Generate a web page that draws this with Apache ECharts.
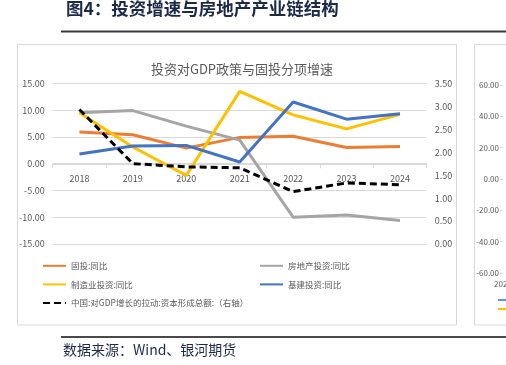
<!DOCTYPE html>
<html>
<head>
<meta charset="utf-8">
<script src="https://cdn.jsdelivr.net/npm/echarts@6/dist/echarts.min.js"></script>
<style>
  html, body { margin: 0; padding: 0; background: #fff; }
  #main { width: 506px; height: 365px; }
</style>
</head>
<body>
<div id="main"></div>
<script>
// 年份
var years = ['2018', '2019', '2020', '2021', '2022', '2023', '2024'];

// 左轴 (%)
var fixedInvest = [5.9, 5.4, 2.9, 4.9, 5.1, 3.0, 3.2];       // 固投:同比
var realEstate = [9.5, 9.9, 7.0, 4.4, -10.0, -9.6, -10.6];   // 房地产投资:同比
var manufacturing = [9.5, 3.1, -2.2, 13.5, 9.1, 6.5, 9.2];   // 制造业投资:同比
var infra = [1.8, 3.3, 3.4, 0.3, 11.5, 8.3, 9.3];            // 基建投资:同比

// 右轴
var gdpPull = [2.93, 1.75, 1.68, 1.66, 1.14, 1.33, 1.29];   // 资本形成总额拉动

// 右侧被截断的第二张图
var rightYears = ['2020', ''];

var fontNarrow = "'Liberation Sans Narrow', 'Noto Sans CJK SC', sans-serif";
var fontCJK = "'Noto Sans CJK SC', sans-serif";
var navy = '#1c2a48';
var gridColor = '#d9d9d9';
var labelColor = '#595959';

var chart = echarts.init(document.getElementById('main'), null, { renderer: 'canvas' });

function fmt2(v) { return v.toFixed(2); }

var legendBase = {
    orient: 'vertical',
    top: 256,
    itemWidth: 23, itemHeight: 12, itemGap: 9,
    itemStyle: { opacity: 0 },
    textStyle: { fontFamily: fontCJK, fontSize: 8.5, color: labelColor }
};

var option = {
    animation: false,
    backgroundColor: '#fff',
    title: {
        text: '投资对GDP政策与固投分项增速',
        left: 237,
        textAlign: 'center',
        top: 58,
        textStyle: { fontFamily: fontCJK, fontSize: 13, fontWeight: 'normal', color: '#595959' }
    },
    legend: [
        Object.assign({}, legendBase, {
            data: ['固投:同比', '制造业投资:同比', '中国:对GDP增长的拉动:资本形成总额:（右轴）'],
            left: 37
        }),
        Object.assign({}, legendBase, {
            data: ['房地产投资:同比', '基建投资:同比'],
            left: 254
        }),
        // 右侧图的图例（被截断）
        {
            data: ['右图线1', '右图线2'],
            orient: 'vertical',
            left: 492, top: 290,
            itemWidth: 20, itemHeight: 10, itemGap: 0,
            itemStyle: { opacity: 0 },
            formatter: function () { return ''; },
            textStyle: { fontSize: 8 }
        }
    ],
    grid: [
        { left: 52.7, right: 79.3, top: 83.3, bottom: 121 },
        { left: 503, right: -60, top: 85, bottom: 92 }
    ],
    xAxis: [
        {
            type: 'category',
            gridIndex: 0,
            data: years,
            boundaryGap: true,
            offset: -79.7,
            axisLine: { onZero: false, lineStyle: { color: gridColor } },
            axisTick: { show: true, length: 4, lineStyle: { color: gridColor } },
            axisLabel: { margin: 10, fontFamily: fontNarrow, fontSize: 9, color: labelColor }
        },
        {
            type: 'category',
            gridIndex: 1,
            data: rightYears,
            boundaryGap: false,
            axisLine: { show: false },
            axisTick: { show: false },
            axisLabel: { margin: 7, align: 'center', alignMinLabel: 'center', fontFamily: fontNarrow, fontSize: 8, color: labelColor }
        }
    ],
    yAxis: [
        {
            type: 'value',
            gridIndex: 0,
            min: -15, max: 15, interval: 5,
            axisLine: { show: false },
            axisTick: { show: false },
            splitLine: { lineStyle: { color: gridColor, width: 1 } },
            axisLabel: { formatter: fmt2, fontFamily: fontNarrow, fontSize: 9, color: labelColor, margin: 8 }
        },
        {
            type: 'value',
            gridIndex: 0,
            position: 'right',
            min: 0, max: 3.5, interval: 0.5,
            axisLine: { show: false },
            axisTick: { show: false },
            splitLine: { show: false },
            axisLabel: { formatter: fmt2, fontFamily: fontNarrow, fontSize: 9, color: labelColor, margin: 8 }
        },
        {
            type: 'value',
            gridIndex: 1,
            min: -60, max: 60, interval: 20,
            axisLine: { show: false },
            axisTick: { show: true, length: 3, lineStyle: { color: gridColor } },
            splitLine: { show: false },
            axisLabel: { formatter: fmt2, fontFamily: fontNarrow, fontSize: 8, color: labelColor, margin: 4 }
        }
    ],
    series: [
        {
            name: '固投:同比', type: 'line', data: fixedInvest,
            xAxisIndex: 0, yAxisIndex: 0, symbol: 'none',
            color: '#ED7D31', lineStyle: { width: 3 }
        },
        {
            name: '房地产投资:同比', type: 'line', data: realEstate,
            xAxisIndex: 0, yAxisIndex: 0, symbol: 'none',
            color: '#A5A5A5', lineStyle: { width: 3 }
        },
        {
            name: '制造业投资:同比', type: 'line', data: manufacturing,
            xAxisIndex: 0, yAxisIndex: 0, symbol: 'none',
            color: '#FFC000', lineStyle: { width: 3 }
        },
        {
            name: '基建投资:同比', type: 'line', data: infra,
            xAxisIndex: 0, yAxisIndex: 0, symbol: 'none',
            color: '#4472C4', lineStyle: { width: 3 }
        },
        {
            name: '中国:对GDP增长的拉动:资本形成总额:（右轴）', type: 'line', data: gdpPull,
            xAxisIndex: 0, yAxisIndex: 1, symbol: 'none',
            color: '#000000', lineStyle: { width: 3, type: [7, 4] }
        },
        {
            name: '右图线1', type: 'line', data: [],
            xAxisIndex: 1, yAxisIndex: 2, symbol: 'none',
            color: '#5B9BD5', lineStyle: { width: 2 }
        },
        {
            name: '右图线2', type: 'line', data: [],
            xAxisIndex: 1, yAxisIndex: 2, symbol: 'none',
            color: '#FFC000', lineStyle: { width: 2 }
        }
    ],
    graphic: [
        // 图标题
        {
            type: 'text', left: 66, top: 0,
            style: { text: '图4：投资增速与房地产产业链结构', fill: navy, font: 'bold 17.5px "Noto Sans CJK SC", sans-serif' }
        },
        { type: 'rect', shape: { x: 61, y: 30.5, width: 445, height: 2 }, style: { fill: '#3a3a3a' } },
        // 图框
        { type: 'rect', shape: { x: 17.5, y: 44.5, width: 439, height: 280.5 }, style: { fill: 'none', stroke: gridColor, lineWidth: 1 } },
        { type: 'rect', shape: { x: 474.5, y: 44.5, width: 60, height: 280.5 }, style: { fill: 'none', stroke: gridColor, lineWidth: 1 } },
        // 来源
        { type: 'rect', shape: { x: 61, y: 336, width: 445, height: 2 }, style: { fill: '#4a4a4a' } },
        {
            type: 'text', left: 63, top: 343,
            style: { text: '数据来源：Wind、银河期货', fill: navy, font: '14px "Noto Sans CJK SC", sans-serif' }
        }
    ]
};

chart.setOption(option);
</script>
</body>
</html>
